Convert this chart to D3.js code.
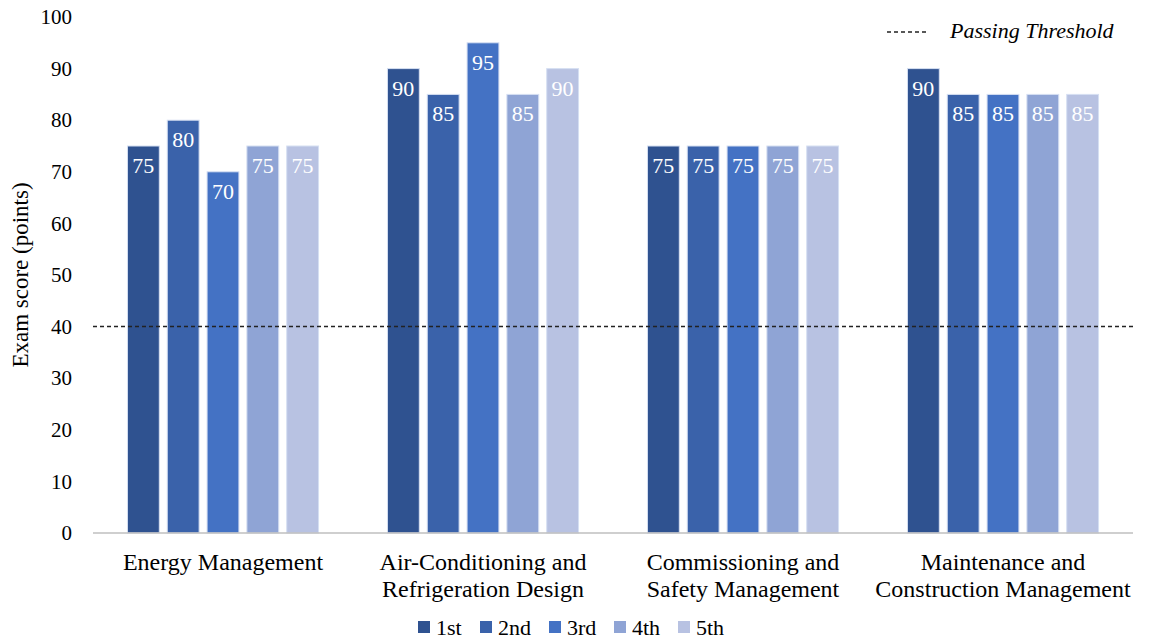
<!DOCTYPE html>
<html>
<head>
<meta charset="utf-8">
<script src="https://cdn.jsdelivr.net/npm/d3@7"></script>
<style>
  html, body { margin: 0; padding: 0; background: #ffffff; }
  svg { display: block; font-family: "Liberation Serif", "Times New Roman", serif; }
</style>
</head>
<body>
<svg id="chart" width="1153" height="641"></svg>
<script>
// Exam subjects (x categories), one line per text row
const categories = [
  ["Energy Management"],
  ["Air-Conditioning and", "Refrigeration Design"],
  ["Commissioning and", "Safety Management"],
  ["Maintenance and", "Construction Management"]
];
const attempts = ["1st", "2nd", "3rd", "4th", "5th"];
// Scores per attempt, one value per subject
const scores1st = [75, 90, 75, 90];
const scores2nd = [80, 85, 75, 85];
const scores3rd = [70, 95, 75, 85];
const scores4th = [75, 85, 75, 85];
const scores5th = [75, 90, 75, 85];
const passingThreshold = 40;
const yTicks = [0, 10, 20, 30, 40, 50, 60, 70, 80, 90, 100];

const seriesValues = [scores1st, scores2nd, scores3rd, scores4th, scores5th];
const colors = ["#2F5290", "#3A62AA", "#4472C4", "#8FA4D5", "#B8C2E2"];

const svg = d3.select("#chart");
const margin = { left: 93, right: 20, top: 17, bottom: 108 };
const W = 1153, H = 641;

const x0 = d3.scaleBand()
  .domain(d3.range(categories.length))
  .range([margin.left, W - margin.right])
  .paddingInner(0.265)
  .paddingOuter(0.1325);
const x1 = d3.scaleBand()
  .domain(attempts)
  .range([0, x0.bandwidth()])
  .paddingInner(0.2);
const y = d3.scaleLinear().domain([0, 100]).range([H - margin.bottom, margin.top]);

// y-axis tick labels
const yAxis = svg.append("g")
  .attr("transform", `translate(${margin.left},0)`)
  .call(d3.axisLeft(y).tickValues(yTicks).tickSize(0).tickPadding(21));
yAxis.select(".domain").remove();
yAxis.selectAll("text")
  .attr("font-family", "Liberation Serif, serif")
  .attr("font-size", 21)
  .attr("fill", "#000");

// y-axis title
svg.append("text")
  .attr("transform", `translate(28,${(y(0) + y(100)) / 2}) rotate(-90)`)
  .attr("text-anchor", "middle")
  .attr("font-size", 23)
  .attr("fill", "#000")
  .text("Exam score (points)");

// bars
const groups = svg.append("g").selectAll("g")
  .data(categories.map((c, i) => i))
  .join("g")
  .attr("transform", i => `translate(${x0(i)},0)`);

groups.selectAll("rect")
  .data(i => attempts.map((a, k) => ({ a, k, v: seriesValues[k][i] })))
  .join("rect")
  .attr("x", d => x1(d.a))
  .attr("y", d => y(d.v))
  .attr("width", x1.bandwidth())
  .attr("height", d => y(0) - y(d.v))
  .attr("fill", d => colors[d.k])
  .attr("stroke", "#D6DFF2")
  .attr("stroke-width", 1);

groups.selectAll("text.val")
  .data(i => attempts.map((a, k) => ({ a, k, v: seriesValues[k][i] })))
  .join("text")
  .attr("class", "val")
  .attr("x", d => x1(d.a) + x1.bandwidth() / 2)
  .attr("y", d => y(d.v) + 27)
  .attr("text-anchor", "middle")
  .attr("font-size", 22)
  .attr("fill", "#fff")
  .text(d => d.v);

// x-axis baseline
svg.append("line")
  .attr("x1", margin.left).attr("x2", W - margin.right)
  .attr("y1", y(0)).attr("y2", y(0))
  .attr("stroke", "#BFBFBF").attr("stroke-width", 1.5);

// category labels
const catLabels = svg.append("g").selectAll("text")
  .data(categories.map((c, i) => ({ c, i })))
  .join("text")
  .attr("x", d => x0(d.i) + x0.bandwidth() / 2)
  .attr("y", y(0) + 37)
  .attr("text-anchor", "middle")
  .attr("font-size", 24)
  .attr("fill", "#000");
catLabels.selectAll("tspan")
  .data(d => d.c.map(line => ({ line, x: x0(d.i) + x0.bandwidth() / 2 })))
  .join("tspan")
  .attr("x", d => d.x)
  .attr("dy", (d, j) => j === 0 ? 0 : 27)
  .text(d => d.line);

// passing threshold
svg.append("line")
  .attr("x1", margin.left).attr("x2", W - margin.right)
  .attr("y1", y(passingThreshold)).attr("y2", y(passingThreshold))
  .attr("stroke", "#222").attr("stroke-width", 1.5)
  .attr("stroke-dasharray", "4,3");

// threshold legend (top right)
svg.append("line")
  .attr("x1", 887).attr("x2", 926)
  .attr("y1", 32).attr("y2", 32)
  .attr("stroke", "#222").attr("stroke-width", 1.5)
  .attr("stroke-dasharray", "4,3");
svg.append("text")
  .attr("x", 950).attr("y", 38)
  .attr("font-size", 22)
  .attr("font-style", "italic")
  .attr("fill", "#000")
  .text("Passing Threshold");

// attempts legend (bottom)
const legend = svg.append("g").attr("transform", "translate(418,627)");
const legendX = [0, 62, 131, 196, 260];
attempts.forEach((a, k) => {
  legend.append("rect")
    .attr("x", legendX[k]).attr("y", -6)
    .attr("width", 12).attr("height", 12)
    .attr("fill", colors[k]);
  legend.append("text")
    .attr("x", legendX[k] + 18).attr("y", 8)
    .attr("font-size", 22)
    .attr("fill", "#000")
    .text(a);
});
</script>
</body>
</html>
